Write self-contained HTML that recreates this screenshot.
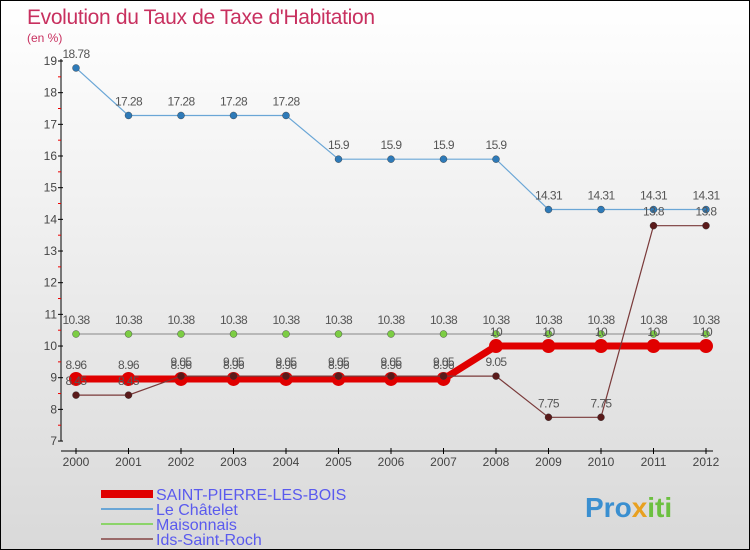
<!DOCTYPE html>
<html><head><meta charset="utf-8"><style>
body{margin:0}
#c{width:748px;height:548px;border:1px solid #000;background:linear-gradient(#fff,#d9d9d9);position:relative;font-family:"Liberation Sans",sans-serif}
</style></head><body>
<div id="c">
<svg width="748" height="548" id="s" style="position:absolute;left:0;top:0">
<text x="26" y="23" font-size="21" fill="#c8305f" textLength="348">Evolution du Taux de Taxe d'Habitation</text>
<text x="26" y="41" font-size="12" fill="#c8305f">(en %)</text>
<g id="g"></g>
<text x="584" y="516" font-size="28" font-weight="bold" fill="#3a8fd0">Pro<tspan fill="#e8a020">x</tspan><tspan fill="#6cc040">iti</tspan></text>
</svg>
</div>
<script>
const years=[2000,2001,2002,2003,2004,2005,2006,2007,2008,2009,2010,2011,2012];
const yTicks=[7,8,9,10,11,12,13,14,15,16,17,18,19];
const saint=[8.96,8.96,8.96,8.96,8.96,8.96,8.96,8.96,10,10,10,10,10];
const chatelet=[18.78,17.28,17.28,17.28,17.28,15.9,15.9,15.9,15.9,14.31,14.31,14.31,14.31];
const maison=[10.38,10.38,10.38,10.38,10.38,10.38,10.38,10.38,10.38,10.38,10.38,10.38,10.38];
const ids=[8.45,8.45,9.05,9.05,9.05,9.05,9.05,9.05,9.05,7.75,7.75,13.8,13.8];
const names=["SAINT-PIERRE-LES-BOIS","Le Châtelet","Maisonnais","Ids-Saint-Roch"];
const NS="http://www.w3.org/2000/svg",g=document.getElementById('g');
const X=i=>75+i*52.5, Y=v=>60+(19-v)*31.67;
function el(t,a){const e=document.createElementNS(NS,t);for(const k in a)e.setAttribute(k,a[k]);g.appendChild(e);return e;}
let e=el('line',{x1:60,y1:58,x2:60,y2:440,stroke:'#000'});


e=el('line',{x1:60,y1:450,x2:712,y2:450,stroke:'#000'});


yTicks.forEach(v=>{
 let t=el('line',{x1:57,y1:Y(v),x2:62,y2:Y(v),stroke:'#000'});
 
 
 if(v<19){let m=el('line',{x1:57,y1:Y(v+0.5),x2:60,y2:Y(v+0.5),stroke:'#e00'});
 
 }
 let l=el('text',{x:56,y:Y(v)+4,'font-size':12,fill:'#444','text-anchor':'end'});l.textContent=v;
 
 
});
years.forEach((yr,i)=>{
 let t=el('line',{x1:X(i),y1:447,x2:X(i),y2:453,stroke:'#000'});
 
 
 let l=el('text',{x:X(i),y:465,'font-size':12,fill:'#444','text-anchor':'middle'});l.textContent=yr;
 
 
});
const series=[[chatelet,'#6aa6d6','#2e7ab8',1.2,3.5,'chatelet'],[maison,'#9c9c9c','#7ccd44',1.2,3.5,'maisonnais'],[saint,'#e00000','#e00000',7,7,'saint-pierre'],[ids,'#7a3a3a','#5a1a1a',1.2,3.5,'ids-saint-roch']];
series.forEach(([d,lc,pc,w,r,n])=>{
 let p=el('polyline',{points:d.map((v,i)=>X(i)+','+Y(v)).join(' '),fill:'none',stroke:lc,'stroke-width':w});
 
 
 d.forEach((v,i)=>{
  let c=el('circle',{cx:X(i),cy:Y(v),r:r,fill:pc,stroke:n=='saint-pierre'?'none':'#333','stroke-width':0.4});
  
  
  let t=el('text',{x:X(i),y:Y(v)-10,'font-size':12,fill:'#555','text-anchor':'middle','letter-spacing':'-0.6'});t.textContent=String(v);
  
  
 });
});
const lcol=['#e00000','#6aa6d6','#8cd46a','#9a6a6a'],lw=[8,2,2,2];
names.forEach((nm,k)=>{
 const y=493+k*15;
 let l=el('line',{x1:100,y1:y,x2:152,y2:y,stroke:lcol[k],'stroke-width':lw[k]});
 
 
 let t=el('text',{x:155,y:y+6,'font-size':16,fill:'#5a5aee'});t.textContent=nm;
 
 
});
</script>
</body></html>
